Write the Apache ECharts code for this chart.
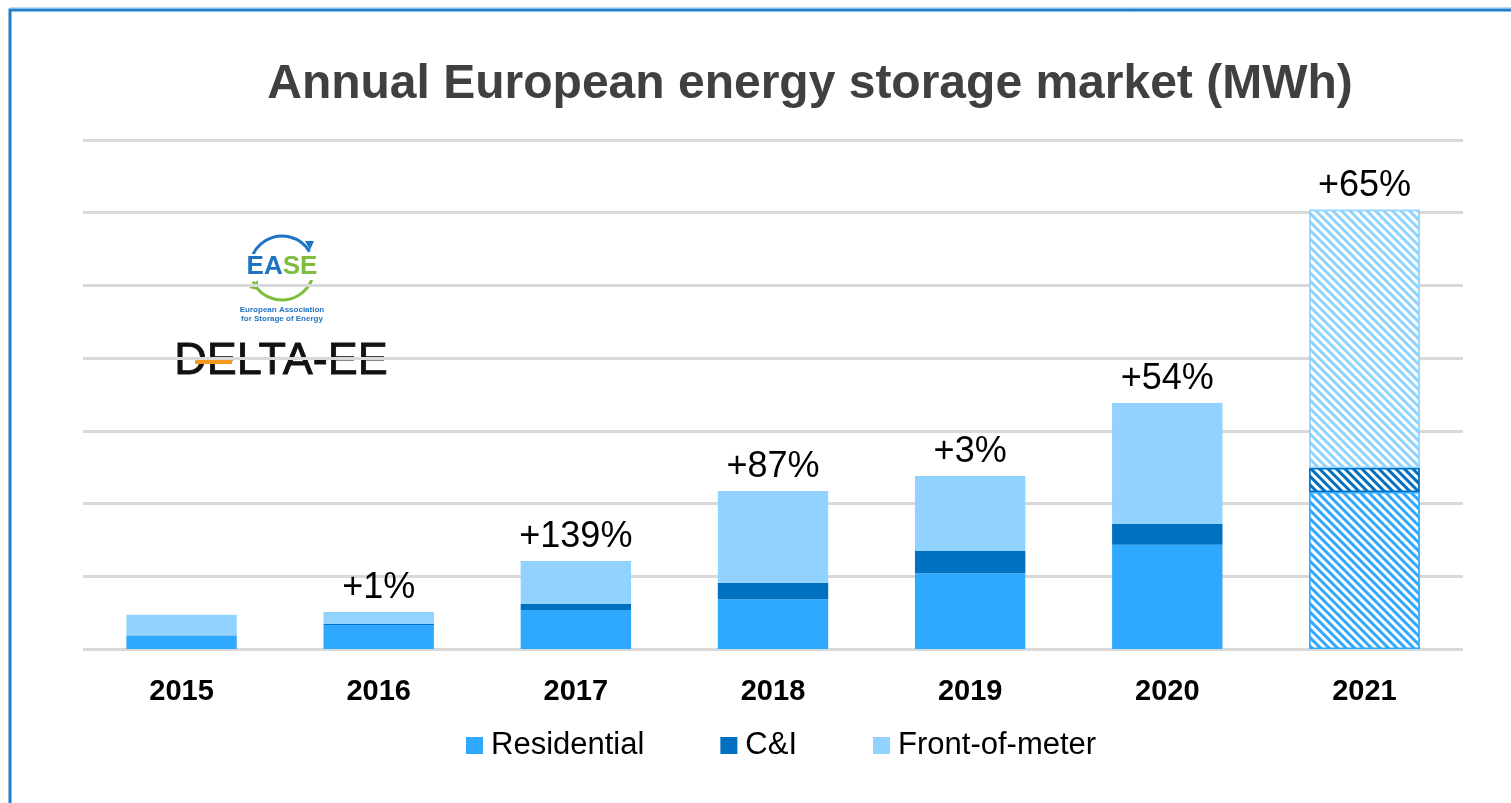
<!DOCTYPE html>
<html>
<head>
<meta charset="utf-8">
<script src="https://cdn.jsdelivr.net/npm/echarts@6/dist/echarts.min.js"></script>
<style>
html,body{margin:0;padding:0;background:#fff;}
#chart{width:1511px;height:803px;}
</style>
</head>
<body>
<div id="chart"></div>
<script>
// ---- data (MWh) ----
var years = ['2015', '2016', '2017', '2018', '2019', '2020', '2021'];
var residential = [89, 165, 268, 342, 521, 716, 1080];
var commercial = [3, 8, 41, 114, 153, 144, 165];
var frontOfMeter = [144, 82, 296, 631, 516, 832, 1775];
var growthLabels = ['', '+1%', '+139%', '+87%', '+3%', '+54%', '+65%'];
var seriesNames = ['Residential', 'C&I', 'Front-of-meter'];
var forecastIndex = 6; // 2021 drawn hatched

var colors = ['#2EA9FF', '#0070C0', '#91D2FF'];

function hatch() {
  return {
    symbol: 'rect',
    symbolSize: 1,
    color: '#ffffff',
    dashArrayX: [1, 0],
    dashArrayY: [3, 3],
    rotation: Math.PI / 4
  };
}

function build(arr, color) {
  return arr.map(function (v, i) {
    if (i === forecastIndex) {
      return { value: v, itemStyle: { color: color, decal: hatch(), borderColor: color, borderWidth: 1.5 } };
    }
    return v;
  });
}

var chart = echarts.init(document.getElementById('chart'), null, { renderer: 'canvas' });

var blue = '#1F74C2', green = '#7DBE3F';
var ff = 'Liberation Sans, Arial, sans-serif';

var option = {
  backgroundColor: '#ffffff',
  animation: false,
  title: {
    text: 'Annual European energy storage market (MWh)',
    left: 805, textAlign: 'center',
    top: 56,
    textStyle: { fontFamily: ff, fontSize: 48, fontWeight: 'bold', color: '#404040' }
  },
  legend: {
    data: seriesNames,
    left: 461, top: 725,
    icon: 'rect', itemWidth: 17, itemHeight: 17, itemGap: 76,
    textStyle: { fontFamily: ff, fontSize: 31, color: '#000', padding: [0, 0, 0, 3] }
  },
  grid: { left: 83, right: 48, top: 140, bottom: 154, containLabel: false },
  xAxis: {
    type: 'category', data: years,
    axisLine: { show: false }, axisTick: { show: false },
    axisLabel: { margin: 28, fontFamily: ff, fontSize: 29, fontWeight: 'bold', color: '#000' }
  },
  yAxis: {
    type: 'value', min: 0, max: 3500, interval: 500,
    axisLabel: { show: false }, axisLine: { show: false }, axisTick: { show: false },
    splitLine: { lineStyle: { color: '#D9D9D9', width: 3 } }
  },
  series: [
    { name: seriesNames[0], type: 'bar', stack: 'a', barWidth: '56%', data: build(residential, colors[0]), itemStyle: { color: colors[0] } },
    { name: seriesNames[1], type: 'bar', stack: 'a', data: build(commercial, colors[1]), itemStyle: { color: colors[1] } },
    { name: seriesNames[2], type: 'bar', stack: 'a', data: build(frontOfMeter, colors[2]), itemStyle: { color: colors[2] },
      label: { show: true, position: 'top', distance: 6, fontFamily: ff, fontSize: 36, color: '#000',
        formatter: function (p) { return growthLabels[p.dataIndex]; } } }
  ],
  graphic: [
    // frame
    { type: 'polyline', shape: { points: [[10, 803], [10, 10], [1511, 10]] }, style: { stroke: '#1E7FCB', lineWidth: 3, fill: null } },
    { type: 'line', shape: { x1: 10, y1: 8, x2: 1511, y2: 8 }, style: { stroke: '#7DB8E6', lineWidth: 1 } },
    // EASE logo
    { type: 'arc', shape: { cx: 282, cy: 268, r: 32, startAngle: Math.PI * 1.08, endAngle: Math.PI * 1.83, clockwise: true }, style: { stroke: blue, lineWidth: 3, fill: null } },
    { type: 'polygon', shape: { points: [[305, 241], [314, 241], [310, 250]] }, style: { fill: blue } },
    { type: 'arc', shape: { cx: 282, cy: 268, r: 32, startAngle: Math.PI * 0.08, endAngle: Math.PI * 0.86, clockwise: true }, style: { stroke: green, lineWidth: 3, fill: null } },
    { type: 'polygon', shape: { points: [[249, 288], [258, 280], [258, 290]] }, style: { fill: green } },
    { type: 'text', style: { x: 282, y: 267, text: '{b|EA}{g|SE}', textAlign: 'center', textVerticalAlign: 'middle',
        rich: { b: { fill: blue, font: 'bold 26px ' + ff }, g: { fill: green, font: 'bold 26px ' + ff } },
        backgroundColor: '#fff' } },
    { type: 'text', style: { x: 282, y: 310, text: 'European Association', textAlign: 'center', textVerticalAlign: 'middle', fill: blue, font: 'bold 8px Liberation Sans Narrow, Arial, sans-serif' } },
    { type: 'text', style: { x: 282, y: 319, text: 'for Storage of Energy', textAlign: 'center', textVerticalAlign: 'middle', fill: blue, font: 'bold 8px Liberation Sans Narrow, Arial, sans-serif' } },
    // DELTA-EE logo
    { type: 'text', style: { x: 281, y: 362, text: 'DELTA-EE', textAlign: 'center', textVerticalAlign: 'middle', fill: '#111', stroke: '#111', lineWidth: 0.8, font: '45px ' + ff } },
    { type: 'rect', shape: { x: 195, y: 359, width: 37, height: 5 }, style: { fill: '#F39A1E' } }
  ]
};

chart.setOption(option);
</script>
</body>
</html>
